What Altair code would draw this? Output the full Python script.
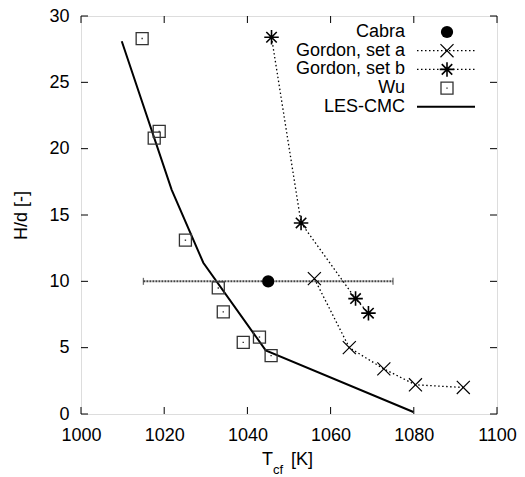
import altair as alt
import pandas as pd

# Measured centreline temperature vs. autoignition height
wu_T = [1014.7, 1018.8, 1017.6, 1025.1, 1033.0, 1034.2, 1039.0, 1042.9, 1045.7]
wu_H = [28.3, 21.3, 20.8, 13.1, 9.5, 7.7, 5.4, 5.8, 4.4]

cabra_T = [1045.0]
cabra_H = [10.0]
cabra_err = [30.0]

gordon_a_T = [1056.1, 1064.5, 1072.8, 1080.4, 1091.9]
gordon_a_H = [10.2, 5.0, 3.4, 2.2, 2.0]

gordon_b_T = [1045.8, 1052.9, 1066.0, 1069.1]
gordon_b_H = [28.4, 14.4, 8.7, 7.6]

les_T = [1009.8, 1021.8, 1029.4, 1044.4, 1079.9]
les_H = [28.1, 16.9, 11.4, 4.8, 0.15]

x_ticks = [1000, 1020, 1040, 1060, 1080, 1100]
y_ticks = [0, 5, 10, 15, 20, 25, 30]

legend_labels = ["Cabra", "Gordon, set a", "Gordon, set b", "Wu", "LES-CMC"]

W, H = 416, 398
FONT = "Liberation Sans"
FS = 18

X_SHAPE = "M-1,-1L1,1M-1,1L1,-1"
STAR_SHAPE = "M-1,0L1,0M0,-1L0,1M-0.72,-0.72L0.72,0.72M-0.72,0.72L0.72,-0.72"
CAP_SHAPE = "M0,-1L0,1"

xs = alt.Scale(domain=[1000, 1100], nice=False, zero=False)
ys = alt.Scale(domain=[0, 30], nice=False, zero=False)

x_enc = alt.X(
    "T:Q", scale=xs, title=None,
    axis=alt.Axis(values=x_ticks, format="d", ticks=False, tickSize=0, domain=False, grid=False,
                  labelPadding=12, labelFontSize=FS, labelFont=FONT, labelColor="black",
                  labelFlush=False),
)
y_enc = alt.Y(
    "H:Q", scale=ys, title="H/d [-]",
    axis=alt.Axis(values=y_ticks, format="d", ticks=False, tickSize=0, domain=False, grid=False,
                  labelPadding=12, labelFontSize=FS, labelFont=FONT, labelColor="black",
                  labelFlush=False, titleFont=FONT, titleFontSize=FS,
                  titleFontWeight="normal", titleColor="black", titlePadding=18),
)

wu = pd.DataFrame({"T": wu_T, "H": wu_H})
cabra = pd.DataFrame({"T": cabra_T, "H": cabra_H,
                      "lo": [t - e for t, e in zip(cabra_T, cabra_err)],
                      "hi": [t + e for t, e in zip(cabra_T, cabra_err)]})
ga = pd.DataFrame({"T": gordon_a_T, "H": gordon_a_H, "i": range(len(gordon_a_T))})
gb = pd.DataFrame({"T": gordon_b_T, "H": gordon_b_H, "i": range(len(gordon_b_T))})
les = pd.DataFrame({"T": les_T, "H": les_H, "i": range(len(les_T))})

base_axes = alt.Chart(wu).mark_point(opacity=0).encode(x=x_enc, y=y_enc)

# Inward ticks on all four sides
xt = pd.DataFrame({"T": x_ticks})
yt = pd.DataFrame({"H": y_ticks})
tick_style = dict(color="black", strokeWidth=1)
ticks = [
    alt.Chart(xt).mark_rule(**tick_style).encode(x=alt.X("T:Q", scale=xs), y=alt.value(H), y2=alt.value(H - 7)),
    alt.Chart(xt).mark_rule(**tick_style).encode(x=alt.X("T:Q", scale=xs), y=alt.value(0), y2=alt.value(7)),
    alt.Chart(yt).mark_rule(**tick_style).encode(y=alt.Y("H:Q", scale=ys), x=alt.value(0), x2=alt.value(7)),
    alt.Chart(yt).mark_rule(**tick_style).encode(y=alt.Y("H:Q", scale=ys), x=alt.value(W), x2=alt.value(W - 7)),
]

# Cabra error bar and point
cabra_bar = alt.Chart(cabra).mark_rule(color="#444", strokeWidth=2, strokeDash=[2, 1]).encode(
    x=alt.X("lo:Q", scale=xs), x2="hi:Q", y=alt.Y("H:Q", scale=ys))
cabra_caps_lo = alt.Chart(cabra).mark_point(shape=CAP_SHAPE, size=49, color="#333", strokeWidth=1.3).encode(
    x=alt.X("lo:Q", scale=xs), y=alt.Y("H:Q", scale=ys))
cabra_caps_hi = alt.Chart(cabra).mark_point(shape=CAP_SHAPE, size=49, color="#333", strokeWidth=1.3).encode(
    x=alt.X("hi:Q", scale=xs), y=alt.Y("H:Q", scale=ys))
cabra_pt = alt.Chart(cabra).mark_point(shape="circle", filled=True, size=150, color="black", opacity=1).encode(
    x=alt.X("T:Q", scale=xs), y=alt.Y("H:Q", scale=ys))

# Gordon sets (dotted lines with markers)
dot = dict(color="black", strokeWidth=1.3, strokeDash=[1.5, 2.5])
STAR_SIZE = 210
ga_line = alt.Chart(ga).mark_line(**dot).encode(
    x=alt.X("T:Q", scale=xs), y=alt.Y("H:Q", scale=ys), order="i:Q")
ga_pts = alt.Chart(ga).mark_point(shape=X_SHAPE, size=170, color="black", strokeWidth=1.2, opacity=1).encode(
    x=alt.X("T:Q", scale=xs), y=alt.Y("H:Q", scale=ys))
gb_line = alt.Chart(gb).mark_line(**dot).encode(
    x=alt.X("T:Q", scale=xs), y=alt.Y("H:Q", scale=ys), order="i:Q")
gb_pts = alt.Chart(gb).mark_point(shape=STAR_SHAPE, size=STAR_SIZE, color="black", strokeWidth=1.6, opacity=1).encode(
    x=alt.X("T:Q", scale=xs), y=alt.Y("H:Q", scale=ys))

# Wu squares with centre dot
wu_sq = alt.Chart(wu).mark_point(shape="square", size=144, color="#333", strokeWidth=1.3, opacity=1).encode(
    x=alt.X("T:Q", scale=xs), y=alt.Y("H:Q", scale=ys))
wu_dot = alt.Chart(wu).mark_point(shape="square", size=2, filled=True, color="#333", opacity=1).encode(
    x=alt.X("T:Q", scale=xs), y=alt.Y("H:Q", scale=ys))

# LES-CMC solid line
les_line = alt.Chart(les).mark_line(color="black", strokeWidth=2).encode(
    x=alt.X("T:Q", scale=xs), y=alt.Y("H:Q", scale=ys), order="i:Q")

# Legend, top right
row_y = [16 + 18.7 * k for k in range(len(legend_labels))]
leg = pd.DataFrame({"label": legend_labels, "py": row_y})
TX, SX, L0, L1 = 324, 366, 336, 394
leg_text = alt.Chart(leg).mark_text(align="right", baseline="middle", font=FONT, fontSize=FS, color="black").encode(
    x=alt.value(TX), y=alt.Y("py:Q", scale=None), text="label:N")


def leg_row(k):
    return alt.Chart(leg.iloc[[k]])


pyY = alt.Y("py:Q", scale=None)
leg_marks = [
    leg_row(0).mark_point(shape="circle", filled=True, size=150, color="black", opacity=1).encode(x=alt.value(SX), y=pyY),
    leg_row(1).mark_rule(**dot).encode(x=alt.value(L0), x2=alt.value(L1), y=pyY),
    leg_row(1).mark_point(shape=X_SHAPE, size=170, color="black", strokeWidth=1.2, opacity=1).encode(x=alt.value(SX), y=pyY),
    leg_row(2).mark_rule(**dot).encode(x=alt.value(L0), x2=alt.value(L1), y=pyY),
    leg_row(2).mark_point(shape=STAR_SHAPE, size=STAR_SIZE, color="black", strokeWidth=1.6, opacity=1).encode(x=alt.value(SX), y=pyY),
    leg_row(3).mark_point(shape="square", size=144, color="#333", strokeWidth=1.3, opacity=1).encode(x=alt.value(SX), y=pyY),
    leg_row(3).mark_point(shape="square", size=2, filled=True, color="#333", opacity=1).encode(x=alt.value(SX), y=pyY),
    leg_row(4).mark_rule(color="black", strokeWidth=2).encode(x=alt.value(L0), x2=alt.value(L1), y=pyY),
]

# X axis title with subscript: T_cf [K]
tpos = pd.DataFrame({"a": [0]})
xtitle = [
    alt.Chart(tpos).mark_text(align="left", baseline="alphabetic", font=FONT, fontSize=FS, color="black", text="T").encode(
        x=alt.value(181), y=alt.value(449)),
    alt.Chart(tpos).mark_text(align="left", baseline="alphabetic", font=FONT, fontSize=13, color="black", text="cf").encode(
        x=alt.value(192), y=alt.value(458)),
    alt.Chart(tpos).mark_text(align="left", baseline="alphabetic", font=FONT, fontSize=FS, color="black", text="[K]").encode(
        x=alt.value(210), y=alt.value(449)),
]

chart = alt.layer(
    base_axes, *ticks,
    les_line, cabra_bar, cabra_caps_lo, cabra_caps_hi,
    ga_line, gb_line, ga_pts, gb_pts, wu_sq, wu_dot, cabra_pt,
    leg_text, *leg_marks, *xtitle,
).properties(
    width=W, height=H,
    autosize=alt.AutoSizeParams(type="none"),
    padding={"left": 81, "top": 16, "right": 28, "bottom": 63},
).configure_view(
    stroke="black", strokeWidth=1.2,
).configure(background="white")

chart.save("out.html", embed_options={"renderer": "svg", "actions": False})
